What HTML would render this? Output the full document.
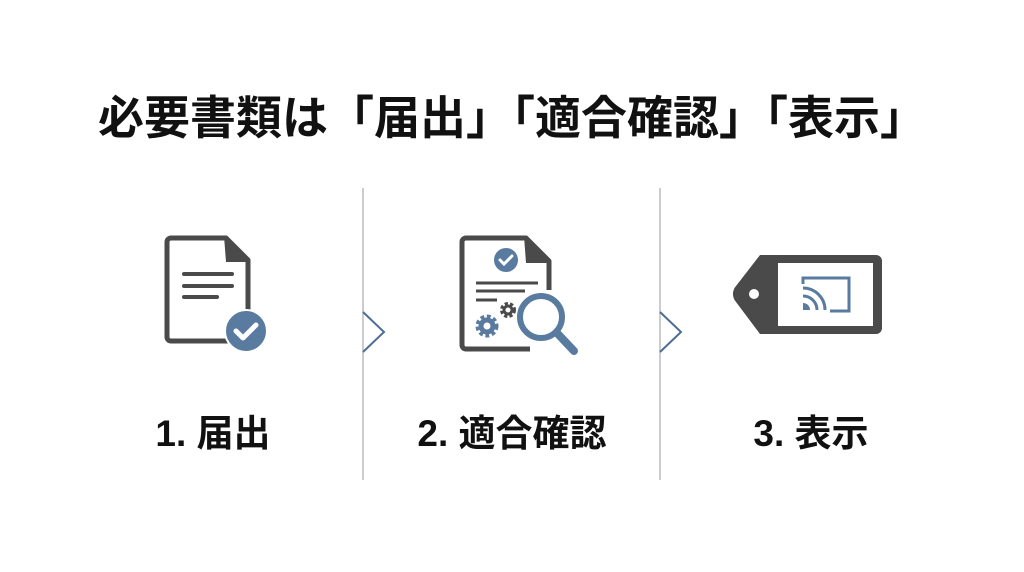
<!DOCTYPE html>
<html><head><meta charset="utf-8"><style>
html,body{margin:0;padding:0;background:#fff;width:1024px;height:572px;overflow:hidden}
text{font-family:"Liberation Sans","Noto Sans CJK JP",sans-serif;font-weight:bold;fill:#111}
</style></head><body>
<svg width="1024" height="572" viewBox="0 0 1024 572" xmlns="http://www.w3.org/2000/svg">
<text x="512" y="134" font-size="46" text-anchor="middle">必要書類は「届出」「適合確認」「表示」</text>
<g stroke="#b8bcc2" stroke-width="1.5"><line x1="363" y1="188" x2="363" y2="480"/><line x1="660" y1="188" x2="660" y2="480"/></g>
<g stroke="#4d6e94" stroke-width="2" fill="none"><polyline points="363,312 384,332 363,352"/><polyline points="660,312 681,332 660,352"/></g>
<!-- doc 1 -->
<path d="M230,341 H171 a4,4 0 0 1 -4,-4 V242 a4,4 0 0 1 4,-4 H226 L248,260 V310" fill="none" stroke="#4a4a4a" stroke-width="5" stroke-linejoin="round"/>
<path d="M224,236 L250,262 L226,262 Z" fill="#4a4a4a"/>
<g stroke="#4a4a4a" stroke-width="4" stroke-linecap="round"><line x1="184" y1="274" x2="232" y2="274"/><line x1="184" y1="286" x2="232" y2="286"/><line x1="184" y1="297" x2="217" y2="297"/></g>
<circle cx="246" cy="331" r="21" fill="#5a7ba0" stroke="#fff" stroke-width="2"/>
<polyline points="236,331 243,338 256,325" fill="none" stroke="#fff" stroke-width="5" stroke-linecap="round" stroke-linejoin="round"/>
<!-- doc 2 -->
<path d="M530,349 H466 a4,4 0 0 1 -4,-4 V242 a4,4 0 0 1 4,-4 H526 L549,261 V290" fill="none" stroke="#4a4a4a" stroke-width="5" stroke-linejoin="round"/>
<path d="M524,236 L551,263 L526,263 Z" fill="#4a4a4a"/>
<circle cx="506" cy="260" r="12" fill="#5a7ba0"/>
<polyline points="500,260 504,264 512,256" fill="none" stroke="#fff" stroke-width="3" stroke-linecap="round"/>
<g stroke="#4a4a4a" stroke-width="3"><line x1="476" y1="283" x2="538" y2="283"/><line x1="476" y1="291" x2="525" y2="291"/><line x1="476" y1="300" x2="497" y2="300"/></g>
<circle cx="487" cy="326" r="9" fill="none" stroke="#5a7ba0" stroke-width="5" stroke-dasharray="3.5 2.5"/>
<circle cx="487" cy="326" r="6" fill="none" stroke="#5a7ba0" stroke-width="5"/>
<circle cx="508" cy="310" r="6" fill="none" stroke="#4a4a4a" stroke-width="4" stroke-dasharray="3 2"/>
<circle cx="508" cy="310" r="4" fill="none" stroke="#4a4a4a" stroke-width="3"/>
<circle cx="541" cy="317" r="21" fill="#fff" stroke="#5a7ba0" stroke-width="6"/>
<line x1="557" y1="333" x2="574" y2="351" stroke="#5a7ba0" stroke-width="8" stroke-linecap="round"/>
<!-- tag -->
<path d="M760,255 H876 a6,6 0 0 1 6,6 V328 a6,6 0 0 1 -6,6 H760 L736,302 a12,12 0 0 1 0,-16 Z" fill="#4a4a4a"/>
<rect x="778" y="263" width="95" height="63" fill="#fff"/>
<circle cx="754" cy="294" r="5" fill="#fff"/>
<path d="M803,284 V278 H849 V311 H830" fill="none" stroke="#5a7ba0" stroke-width="3"/>
<path d="M803,288 a22,22 0 0 1 22,22 M803,296 a14,14 0 0 1 14,14" fill="none" stroke="#5a7ba0" stroke-width="3"/>
<path d="M803,303 a7,7 0 0 1 7,7 H803 Z" fill="#5a7ba0"/>
<text x="213" y="446" font-size="37" text-anchor="middle">1. 届出</text>
<text x="512" y="446" font-size="37" text-anchor="middle">2. 適合確認</text>
<text x="811" y="446" font-size="37" text-anchor="middle">3. 表示</text>
</svg>
</body></html>
